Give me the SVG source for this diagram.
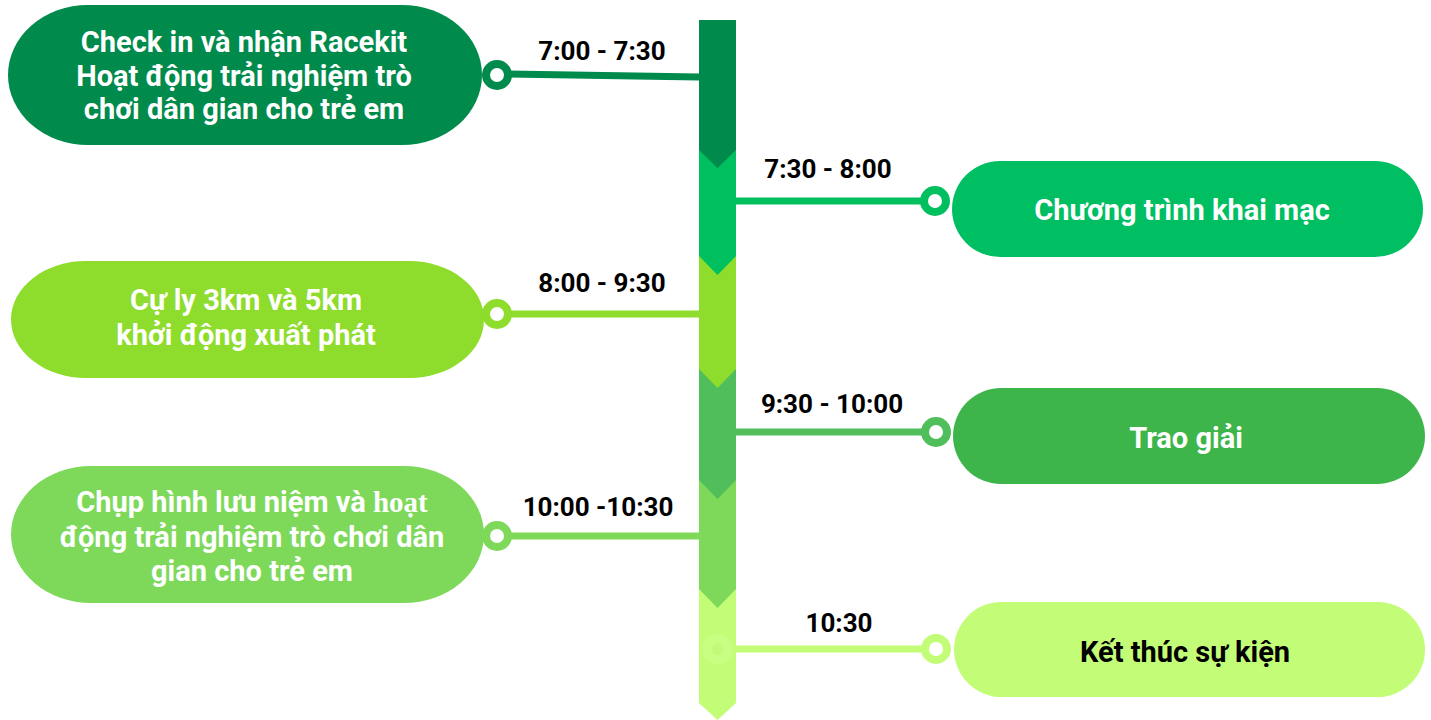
<svg xmlns="http://www.w3.org/2000/svg" width="1431" height="720" viewBox="0 0 1431 720">
<style>
.lbl{font-family:Roboto,"Liberation Sans",sans-serif;font-weight:700;font-size:29px;fill:#ffffff;text-anchor:middle}
.dark{fill:#000000}
.time{font-family:Roboto,"Liberation Sans",sans-serif;font-weight:700;font-size:26px;fill:#000000;text-anchor:middle}
.dot{fill:#ffffff;stroke-width:8}
.ln{stroke-width:7;fill:none}
</style>
<rect width="1431" height="720" fill="#ffffff"/>
<g id="spine">
<polygon points="699,589 736,589 736,703 717.5,720 699,703" fill="#C3FD77"/>
<circle cx="717.5" cy="649" r="15" fill="#C8FF82"/>
<circle cx="717.5" cy="649" r="6" fill="#C1F978"/>
<polygon points="699,480 736,480 736,589 717.5,608 699,589" fill="#7ED95B"/>
<polygon points="699,369 736,369 736,480 717.5,499 699,480" fill="#4FBE5B"/>
<polygon points="699,256 736,256 736,369 717.5,388 699,369" fill="#8EDC2B"/>
<polygon points="699,150 736,150 736,256 717.5,275 699,256" fill="#00BF5F"/>
<polygon points="699,20 736,20 736,150 717.5,168 699,150" fill="#008A4B"/>
</g>
<g id="connectors">
<line class="ln" x1="505" y1="74" x2="699" y2="77" stroke="#008A4B"/>
<circle class="dot" cx="497" cy="75" r="11" stroke="#008A4B"/>
<line class="ln" x1="736" y1="201" x2="925" y2="201" stroke="#00BF5F"/>
<circle class="dot" cx="935" cy="201" r="11" stroke="#00BF5F"/>
<line class="ln" x1="505" y1="314" x2="699" y2="314" stroke="#8EDC2B"/>
<circle class="dot" cx="497" cy="314" r="11" stroke="#8EDC2B"/>
<line class="ln" x1="736" y1="432" x2="926" y2="432" stroke="#4FBE5B"/>
<circle class="dot" cx="936" cy="432" r="11" stroke="#4FBE5B"/>
<line class="ln" x1="505" y1="536" x2="699" y2="536" stroke="#7ED95B"/>
<circle class="dot" cx="497" cy="536" r="11" stroke="#7ED95B"/>
<line class="ln" x1="736" y1="649" x2="926" y2="649" stroke="#C3FD77"/>
<circle class="dot" cx="936" cy="649" r="11" stroke="#C3FD77"/>
</g>
<g id="times">
<text class="time" x="602" y="60">7:00 - 7:30</text>
<text class="time" x="828" y="178">7:30 - 8:00</text>
<text class="time" x="602" y="292">8:00 - 9:30</text>
<text class="time" x="832" y="413">9:30 - 10:00</text>
<text class="time" x="598" y="516">10:00 -10:30</text>
<text class="time" x="839" y="632">10:30</text>
</g>
<g id="node1">
<rect x="8" y="5" width="474" height="140" rx="80" ry="70" fill="#008A4B"/>
<text class="lbl" x="244" y="52">Check in và nhận Racekit</text>
<text class="lbl" x="244" y="86">Hoạt động trải nghiệm trò</text>
<text class="lbl" x="244" y="119">chơi dân gian cho trẻ em</text>
</g>
<g id="node2">
<rect x="952" y="161" width="471" height="96" rx="48" fill="#00BF63"/>
<text class="lbl" x="1182" y="220">Chương trình khai mạc</text>
</g>
<g id="node3">
<rect x="11" y="261" width="473" height="117" rx="75" ry="58.5" fill="#8EDC2B"/>
<text class="lbl" x="246" y="310">Cự ly 3km và 5km</text>
<text class="lbl" x="246" y="345">khởi động xuất phát</text>
</g>
<g id="node4">
<rect x="953" y="388" width="472" height="96" rx="48" fill="#3DB54A"/>
<text class="lbl" x="1186" y="448">Trao giải</text>
</g>
<g id="node5">
<rect x="11" y="466" width="473" height="137" rx="80" ry="68.5" fill="#7ED95B"/>
<text class="lbl" x="252" y="512">Chụp hình lưu niệm và <tspan font-family="'Liberation Serif',serif">hoạt</tspan></text>
<text class="lbl" x="252" y="547">động trải nghiệm trò chơi dân</text>
<text class="lbl" x="252" y="581">gian cho trẻ em</text>
</g>
<g id="node6">
<rect x="954" y="602" width="471" height="95" rx="47.5" fill="#C3FD77"/>
<text class="lbl dark" x="1185" y="662">Kết thúc sự kiện</text>
</g>
</svg>
